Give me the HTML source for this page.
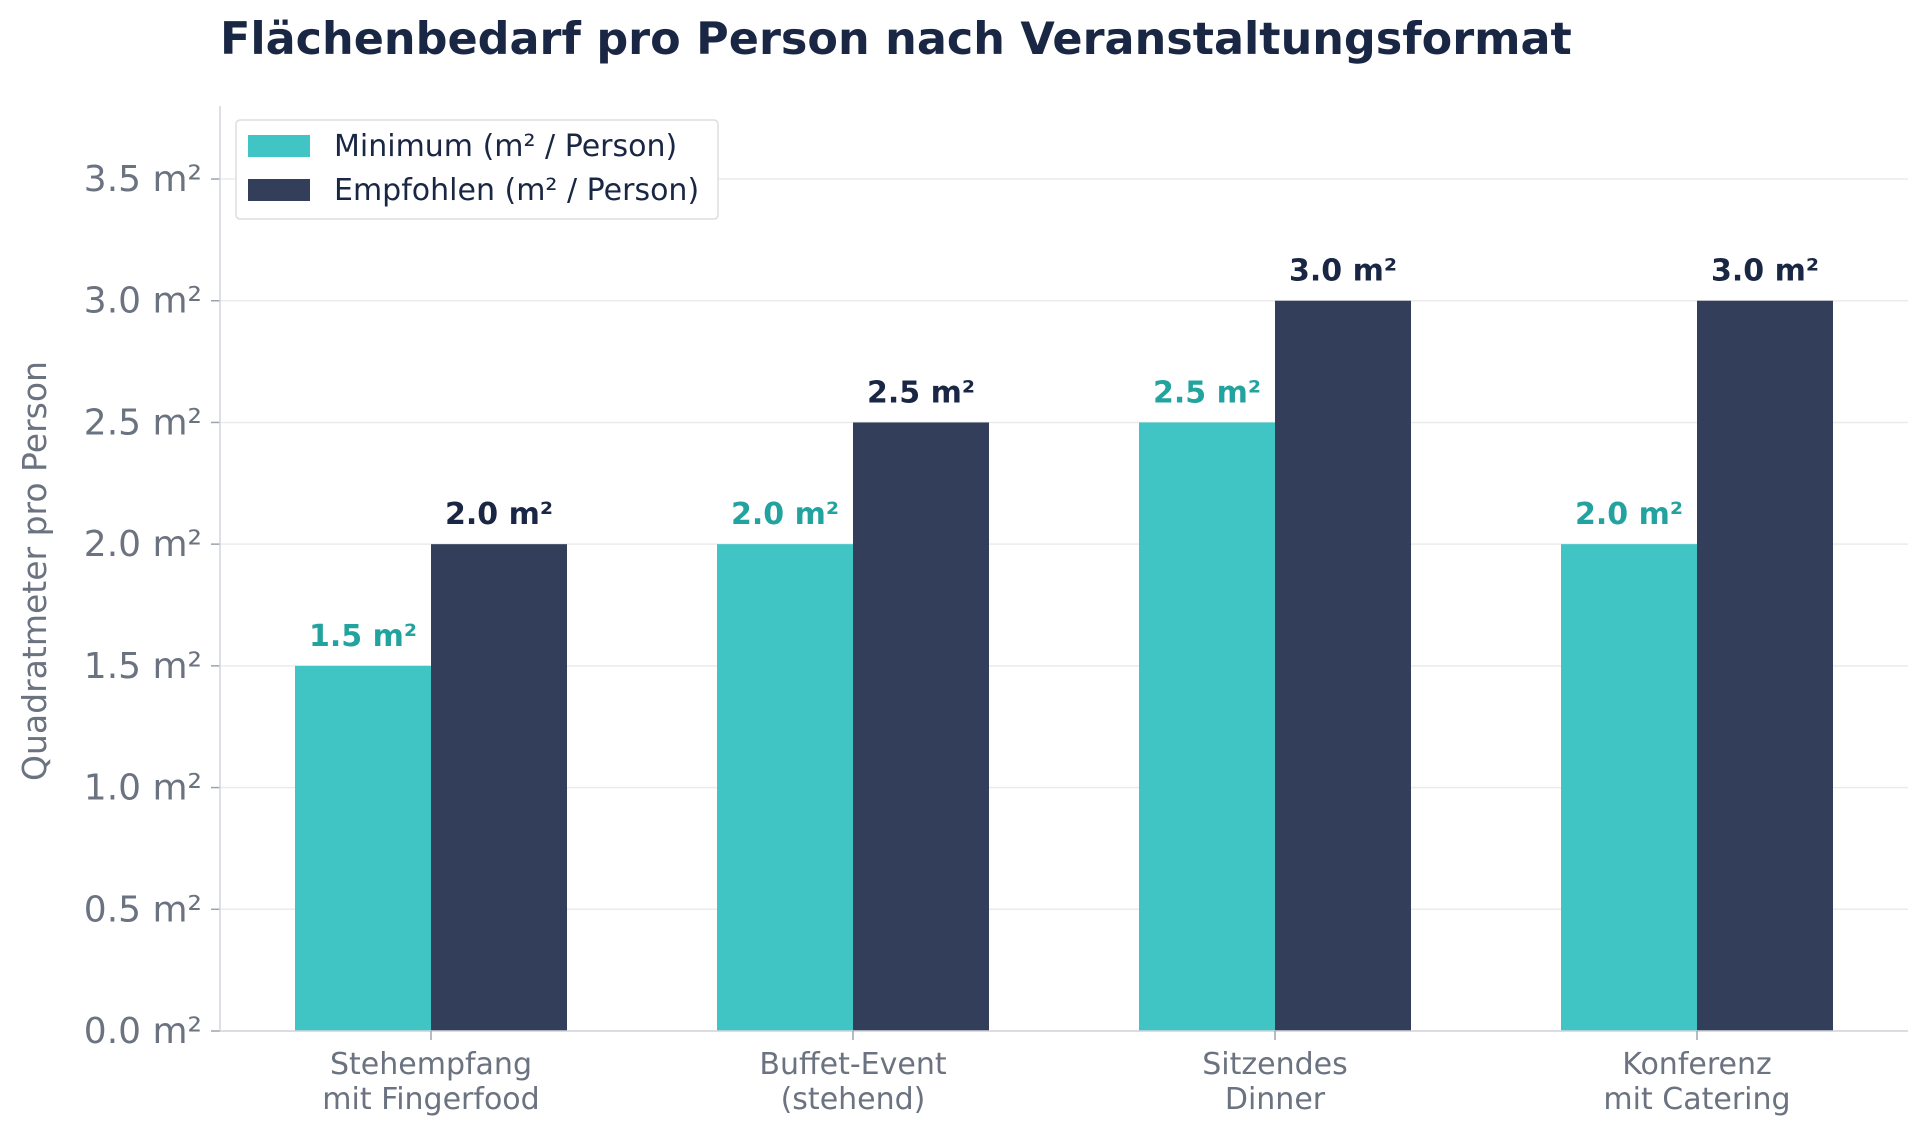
<!DOCTYPE html>
<html><head><meta charset="utf-8"><style>
html,body{margin:0;padding:0;background:#fff;}
svg{display:block;font-family:"DejaVu Sans","Liberation Sans",sans-serif;}
</style></head><body>
<svg id="chart" width="1928" height="1132" viewBox="0 0 1928 1132">
<text x="220" y="54" font-size="44.5" font-weight="bold" fill="#1a2744">Flächenbedarf pro Person nach Veranstaltungsformat</text>
<g id="grid"></g><g id="bars"></g><g id="axes"></g>
<text transform="translate(46,571) rotate(-90)" text-anchor="middle" font-size="33" fill="#6b7280">Quadratmeter pro Person</text>
<g>
<rect x="236" y="120" width="482" height="99" rx="4" fill="#fff" stroke="#ddd" stroke-width="1.5"/>
<rect x="248" y="135" width="62" height="22" fill="#40c4c4"/>
<text x="334" y="156" font-size="30" fill="#1a2744">Minimum (m² / Person)</text>
<rect x="248" y="179" width="62" height="22" fill="#333f5a"/>
<text x="334" y="200" font-size="30" fill="#1a2744">Empfohlen (m² / Person)</text>
</g>
</svg>
<script>
const categories=[["Stehempfang","mit Fingerfood"],["Buffet-Event","(stehend)"],["Sitzendes","Dinner"],["Konferenz","mit Catering"]];
const minValues=[1.5,2.0,2.5,2.0];
const recValues=[2.0,2.5,3.0,3.0];
const yTicks=[0,0.5,1.0,1.5,2.0,2.5,3.0,3.5];
const NS="http://www.w3.org/2000/svg";
const L=220,R=1908,Y0=1031,YTOP=106,YMAX=3.8;
const y=v=>Y0-(v/YMAX)*(Y0-YTOP);
const step=(R-L)/categories.length;
const xc=i=>L+step*(i+0.5);
const bw=136;
function mk(tag,attrs,parent){const e=document.createElementNS(NS,tag);for(const k in attrs)e.setAttribute(k,attrs[k]);parent.appendChild(e);return e;}
const grid=document.getElementById('grid'),bars=document.getElementById('bars'),axes=document.getElementById('axes');
yTicks.forEach(t=>{
 const g=mk('line',{x1:L,x2:R,y1:y(t),y2:y(t),stroke:'#ebebeb','stroke-width':1.5},grid);
 
 
 mk('line',{x1:L-9,x2:L,y1:y(t),y2:y(t),stroke:'#9ca3af','stroke-width':1.5},axes);
 const tx=mk('text',{x:L-18,y:y(t)+12,'text-anchor':'end','font-size':36,fill:'#6b7280'},axes);
 tx.textContent=t.toFixed(1)+' m²';
 
 
});
mk('line',{x1:L,x2:L,y1:YTOP,y2:Y0,stroke:'#d1d5db','stroke-width':1.5},axes);
mk('line',{x1:L,x2:R,y1:Y0,y2:Y0,stroke:'#d1d5db','stroke-width':1.5},axes);
categories.forEach((c,i)=>{
 const cx=xc(i);
 [[minValues[i],cx-bw,'#40c4c4','#23a3a0','bar-minimum'],[recValues[i],cx,'#333f5a','#1a2744','bar-empfohlen']].forEach(([v,x0,col,tc,nm])=>{
  const b=mk('rect',{x:x0,y:y(v),width:bw,height:Y0-y(v),fill:col},bars);
  
  
  const t=mk('text',{x:x0+bw/2,y:y(v)-20,'text-anchor':'middle','font-size':30,'font-weight':'bold',fill:tc},bars);
  t.textContent=v.toFixed(1)+' m²';
  
  
 });
 mk('line',{x1:cx,x2:cx,y1:Y0,y2:Y0+9,stroke:'#9ca3af','stroke-width':1.5},axes);
 c.forEach((line,j)=>{
  const t=mk('text',{x:cx,y:Y0+43+j*35,'text-anchor':'middle','font-size':30,fill:'#6b7280'},axes);
  t.textContent=line;
  
  
 });
});
</script>
</body></html>
